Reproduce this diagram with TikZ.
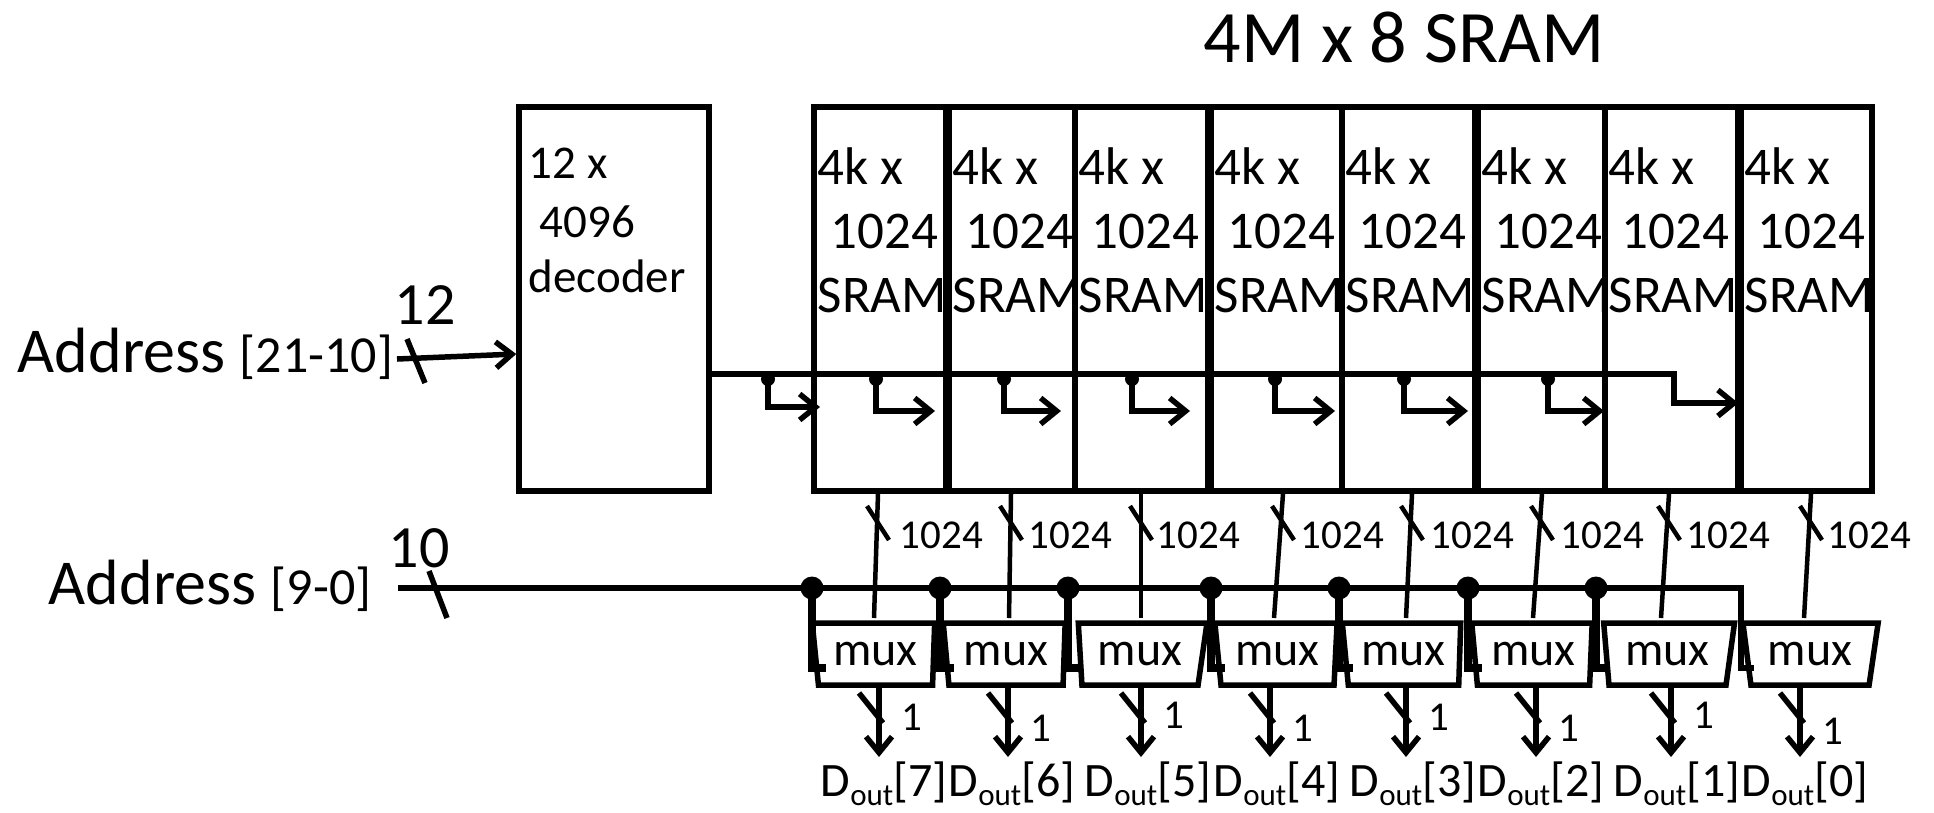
\documentclass[tikz,border=0pt]{standalone}
\usepackage{fontspec}
\setmainfont{Carlito}
\usetikzlibrary{arrows.meta,calc,shapes.geometric}
\begin{document}
\begin{tikzpicture}[x=1pt,y=-1pt,line width=5.5pt,line join=miter,
  box/.style={draw,rectangle,inner sep=0pt,line width=5.5pt},
  txt/.style={inner sep=0pt,anchor=base west},
  sramtxt/.style={txt,font=\fontsize{53}{64}\selectfont},
  dectxt/.style={txt,font=\fontsize{47}{57}\selectfont},
  bigtxt/.style={txt,font=\fontsize{64}{70}\selectfont},
  widthtxt/.style={txt,font=\fontsize{60}{66}\selectfont},
  smalltxt/.style={txt,font=\fontsize{41}{48}\selectfont},
  douttxt/.style={txt,font=\fontsize{48}{56}\selectfont},
  arr/.style={-{Straight Barb[length=16pt,width=26pt]}},
  bus/.style={line width=4.5pt},
  hook/.style={line width=7.5pt},
  muxbox/.style={draw,trapezium,trapezium stretches=true,inner sep=0pt,
    minimum height=62pt,line width=5.5pt,font=\fontsize{48}{56}\selectfont},
  bigdot/.style={circle,fill,inner sep=0pt,minimum size=23pt},
  tapdot/.style={circle,fill,inner sep=0pt,minimum size=14pt}
]
\useasboundingbox (0,0) rectangle (1934,812);

% title
\node[anchor=base,inner sep=0pt,font=\fontsize{74}{80}\selectfont] (title) at (1404,62) {4M x 8 SRAM};

% decoder
\node[box,minimum width=190pt,minimum height=384pt] (dec) at (614,299) {};
\node[dectxt] (deca) at (526,178) {12 x};
\node[dectxt] (decb) at (537,237) {4096};
\node[dectxt] (decc) at (526,292) {decoder};

% SRAM blocks
\foreach \i/\l/\r in {1/814/946,2/949/1075,3/1075/1208,4/1211/1342,5/1342/1475,6/1478/1605,7/1605/1738,8/1741/1872}{
  \node[box,minimum width={(\r-\l)*1pt},minimum height=384pt] (s\i) at ({(\l+\r)/2},299) {};
  \node[sramtxt] (s\i-a) at ({\l+1},184) {4k x};
  \node[sramtxt] (s\i-b) at ({\l+14},248) {1024};
  \node[sramtxt] (s\i-c) at ({\l+1},312) {SRAM};
}

% upper address input
\node[bigtxt] (addrhi) at (15,372) {Address {\fontsize{52}{60}\selectfont[21-10]}};
\node[widthtxt] (w12) at (392,324) {12};
\coordinate (hiin) at (397,359);
\draw[arr] (hiin) -- ([yshift=-55pt]dec.west);
\draw (407,339) -- (425,383);

% decoder output line with taps
\draw[arr] ([yshift=-75pt]dec.east) -- (1674,374) -- (1674,403) -- (s8.west |- 0,403);
\foreach \i/\x/\e/\yy in {1/768/820/407,2/876/935/411,3/1004/1061/411,4/1132/1190/411,5/1275/1335/411,6/1404/1468/411,7/1548/1604/411}{
  \node[tapdot] (t\i) at (\x,379) {};
  \draw[arr] (t\i.center) -- (\x,\yy) -- (\e,\yy);
}

% muxes
\foreach \i/\tl/\tr/\la/\ra in {1/814/937/100.95/93.7,2/945/1067/100.1/93.7,3/1075/1205/96.4/105.3,4/1216/1339/100.95/95.5,5/1344/1463/100.95/93.7,6/1473/1594/100.1/94.6,7/1602/1733/99.2/104.5,8/1742/1878/103.6/105.3}{
  \node[muxbox,minimum width={(\tr-\tl)*1pt},trapezium left angle=\la,trapezium right angle=\ra] (m\i) at ({(\tl+\tr)/2},654) {mux};
}

% 1024-bit buses
\foreach \i/\xt/\xb/\lx in {1/878/874/897,2/1011/1009/1026,3/1141/1141/1154,4/1283/1274/1298,5/1412/1406/1428,6/1542/1533/1558,7/1669/1661/1684,8/1811/1804/1825}{
  \draw[bus] (s\i.south -| \xt,0) -- (\xb,618);
  \draw[bus] ({\xt-11},506) -- ({\xt+11},540);
  \node[smalltxt] (n\i) at (\lx,548) {1024};
}

% lower address input
\node[bigtxt] (addrlo) at (46,604) {Address {\fontsize{52}{60}\selectfont[9-0]}};
\node[widthtxt] (w10) at (386,567) {10};
\coordinate (loin) at (398,588);
\draw (loin) -- (1741,588) -- (1741,668) -- (1754,668);
\draw (429,571) -- (447,618);
\foreach \i/\x in {1/812,2/940,3/1068,4/1211,5/1339,6/1468,7/1596}{
  \node[bigdot] (d\i) at (\x,588) {};
  \draw[hook] (d\i.center) -- (\x,668) -- ({\x+14},668);
}

% outputs
\foreach \i/\x/\ly/\dx/\b in {1/879/730/818/7,2/1008/741/946/6,3/1141/728/1082/5,4/1270/741/1211/4,5/1406/730/1347/3,6/1536/741/1475/2,7/1671/728/1611/1,8/1800/744/1739/0}{
  \draw[arr] (m\i.south -| \x,0) -- (\x,757);
  \draw ({\x-20},693) -- ({\x+4},723);
  \node[smalltxt] (o\i) at ({\x+20},\ly) {1};
  \node[douttxt] (dout\i) at (\dx,796) {D\raisebox{-0.2em}{\fontsize{31}{31}\selectfont out}[\b]};
}
\end{tikzpicture}
\end{document}
